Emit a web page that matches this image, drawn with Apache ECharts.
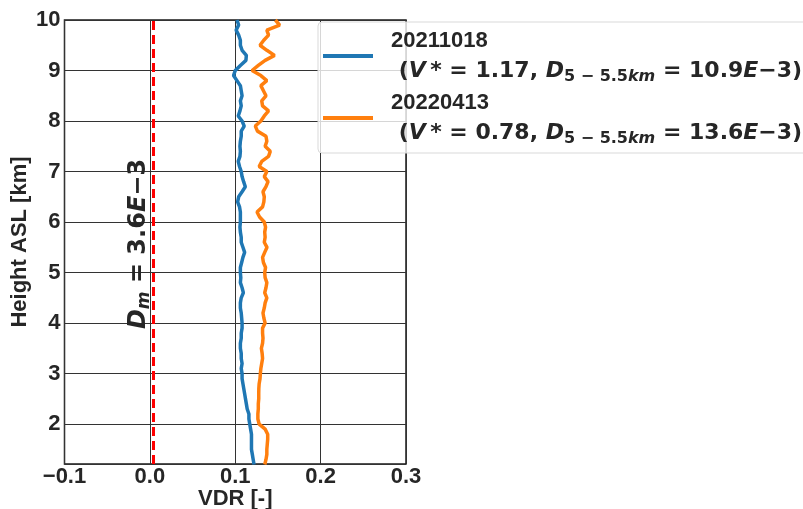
<!DOCTYPE html>
<html>
<head>
<meta charset="utf-8">
<script src="https://cdn.jsdelivr.net/npm/echarts@6/dist/echarts.min.js"></script>
<style>
html, body { margin: 0; padding: 0; background: #fff; }
#chart { width: 803px; height: 509px; }
</style>
</head>
<body>
<div id="chart"></div>
<script>
// 高度 (km)
var heights = [1.2, 1.3, 1.4, 1.5, 1.6, 1.7, 1.8, 1.9, 2.0, 2.1, 2.2, 2.3, 2.4, 2.5, 2.6, 2.7, 2.8, 2.9,
    3.0, 3.1, 3.2, 3.3, 3.4, 3.5, 3.6, 3.7, 3.8, 3.9, 4.0, 4.1, 4.2, 4.3, 4.4, 4.5, 4.6, 4.7, 4.8, 4.9,
    5.0, 5.1, 5.2, 5.3, 5.4, 5.5, 5.6, 5.7, 5.8, 5.9, 6.0, 6.1, 6.2, 6.3, 6.4, 6.5, 6.6, 6.7, 6.8, 6.9,
    7.0, 7.1, 7.2, 7.3, 7.4, 7.5, 7.6, 7.7, 7.8, 7.9, 8.0, 8.1, 8.2, 8.3, 8.4, 8.5, 8.6, 8.7, 8.8, 8.9,
    9.0, 9.1, 9.2, 9.3, 9.4, 9.5, 9.6, 9.7, 9.8, 9.9, 10.0];

// VDR 20211018
var vdr20211018 = [0.122, 0.121, 0.120, 0.119, 0.119, 0.119, 0.119, 0.118, 0.117, 0.116, 0.116, 0.114, 0.113, 0.112, 0.111, 0.110, 0.109, 0.108,
    0.108, 0.107, 0.108, 0.107, 0.107, 0.106, 0.106, 0.107, 0.107, 0.108, 0.108, 0.1075, 0.107, 0.106, 0.106, 0.107, 0.1095, 0.108, 0.106, 0.1065,
    0.106, 0.106, 0.1075, 0.109, 0.111, 0.109, 0.107, 0.107, 0.106, 0.1055, 0.106, 0.106, 0.106, 0.105, 0.1028, 0.104, 0.108, 0.1118, 0.1098, 0.108,
    0.107, 0.105, 0.1035, 0.1055, 0.106, 0.1055, 0.106, 0.107, 0.107, 0.1105, 0.108, 0.1035, 0.1055, 0.107, 0.106, 0.108, 0.107, 0.106, 0.102, 0.098,
    0.100, 0.106, 0.1125, 0.113, 0.108, 0.106, 0.106, 0.104, 0.101, 0.104, 0.102];

// VDR 20220413
var vdr20220413 = [0.1346, 0.136, 0.137, 0.137, 0.1375, 0.138, 0.138, 0.135, 0.128, 0.1265, 0.1265, 0.127, 0.127, 0.1275, 0.1275, 0.1276, 0.128, 0.129,
    0.1294, 0.130, 0.131, 0.132, 0.1315, 0.1306, 0.132, 0.1325, 0.132, 0.132, 0.135, 0.1335, 0.1325, 0.134, 0.135, 0.137, 0.1345, 0.136, 0.137, 0.135,
    0.1345, 0.1355, 0.133, 0.132, 0.1345, 0.1372, 0.134, 0.135, 0.1345, 0.1355, 0.134, 0.1285, 0.1255, 0.132, 0.1335, 0.134, 0.1325, 0.136, 0.1384, 0.134,
    0.137, 0.128, 0.131, 0.139, 0.141, 0.135, 0.137, 0.136, 0.126, 0.1235, 0.130, 0.134, 0.139, 0.132, 0.131, 0.136, 0.133, 0.130, 0.137, 0.130,
    0.1197, 0.127, 0.135, 0.146, 0.137, 0.129, 0.1334, 0.139, 0.137, 0.152, 0.147];

var dm = 0.0036;   // D_m = 3.6E-3

var textColor = '#262626';
var mathFont = 'DejaVu Sans';
var plainFont = 'Liberation Sans';

function pairs(vals) {
    return heights.map(function (h, i) { return [vals[i], h]; });
}

var LH = 31;
var legendRich = {
    t: { fontFamily: plainFont, fontWeight: 'bold', fontSize: 22, color: textColor, lineHeight: LH },
    m: { fontFamily: mathFont, fontWeight: 'bold', fontSize: 22, color: textColor, lineHeight: LH },
    mi: { fontFamily: mathFont, fontWeight: 'bold', fontStyle: 'italic', fontSize: 22, color: textColor, lineHeight: LH },
    s: { fontFamily: mathFont, fontWeight: 'bold', fontSize: 16, color: textColor, lineHeight: LH, padding: [10, 0, 0, 0] },
    si: { fontFamily: mathFont, fontWeight: 'bold', fontStyle: 'italic', fontSize: 16, color: textColor, lineHeight: LH, padding: [10, 0, 0, 0] }
};

var legendText = {
    '20211018': '{t|20211018}\n{m| (}{mi|V}{m|\u2009* = 1.17, }{mi|D}{s|5 − 5.5}{si|km}{m| = 10.9}{mi|E}{m|−3)}',
    '20220413': '{t|20220413}\n{m| (}{mi|V}{m|\u2009* = 0.78, }{mi|D}{s|5 − 5.5}{si|km}{m| = 13.6}{mi|E}{m|−3)}'
};

var myChart = echarts.init(document.getElementById('chart'));
var option = {
    animation: false,
    backgroundColor: '#fff',
    grid: {
        left: 64.5,
        right: 397,
        top: 20,
        bottom: 45,
        outerBoundsMode: 'none',
        containLabel: false,
        show: true,
        borderColor: '#1a1a1a',
        borderWidth: 1.5
    },
    xAxis: {
        type: 'value',
        min: -0.1,
        max: 0.3,
        interval: 0.1,
        name: 'VDR [-]',
        nameLocation: 'middle',
        nameGap: 24,
        nameMoveOverlap: false,
        nameTextStyle: { fontFamily: plainFont, fontWeight: 'bold', fontSize: 22, color: textColor },
        axisLine: { show: false },
        axisTick: { show: false },
        axisLabel: {
            margin: 2,
            fontFamily: plainFont, fontWeight: 'bold', fontSize: 22, color: textColor,
            formatter: function (v) { return v.toFixed(1).replace('-', '−'); }
        },
        splitLine: { show: true, lineStyle: { color: '#333', width: 1 } }
    },
    yAxis: {
        type: 'value',
        min: 1.21,
        max: 10,
        splitNumber: 9,
        name: 'Height ASL [km]',
        nameLocation: 'middle',
        nameGap: 34,
        nameTextStyle: { fontFamily: plainFont, fontWeight: 'bold', fontSize: 22, color: textColor },
        axisLine: { show: false },
        axisTick: { show: false },
        axisLabel: {
            margin: 4,
            showMinLabel: false,
            fontFamily: plainFont, fontWeight: 'bold', fontSize: 22, color: textColor,
            formatter: function (v) { return Math.abs(v - Math.round(v)) < 1e-6 ? String(Math.round(v)) : ''; }
        },
        splitLine: { show: true, lineStyle: { color: '#333', width: 1 } }
    },
    legend: {
        orient: 'vertical',
        left: 318,
        top: 22,
        padding: [3, 20, 4, 5],
        itemGap: 0,
        itemWidth: 50,
        itemHeight: 4,
        icon: 'rect',
        backgroundColor: 'rgba(255,255,255,0.8)',
        borderColor: '#d9d9d9',
        borderWidth: 1,
        borderRadius: 4,
        formatter: function (name) { return legendText[name]; },
        textStyle: { fontSize: 22, lineHeight: LH, padding: [0, 0, 0, 13], rich: legendRich }
    },
    series: [
        {
            name: '20211018',
            type: 'line',
            data: pairs(vdr20211018),
            showSymbol: false,
            color: '#1f77b4',
            lineStyle: { width: 3.5 },
            markLine: {
                silent: true,
                symbol: 'none',
                precision: 5,
                label: { show: false },
                lineStyle: { color: '#ff0000', type: [9, 5], width: 3 },
                data: [{ xAxis: dm }]
            }
        },
        {
            name: '20220413',
            type: 'line',
            data: pairs(vdr20220413),
            showSymbol: false,
            color: '#ff7f0e',
            lineStyle: { width: 3.5 }
        }
    ]
};
myChart.setOption(option);

// D_m 标注
var p = myChart.convertToPixel({ xAxisIndex: 0, yAxisIndex: 0 }, [dm, (1.21 + 10) / 2]);
myChart.setOption({
    graphic: [{
        type: 'text',
        x: p[0] - 14,
        y: p[1] + 2,
        rotation: Math.PI / 2,
        style: {
            text: '{i|D}{s|m}{n| = 3.6}{i|E}{n|−3}',
            align: 'center',
            verticalAlign: 'middle',
            rich: {
                i: { fontFamily: mathFont, fontWeight: 'bold', fontStyle: 'italic', fontSize: 24, fill: textColor },
                n: { fontFamily: mathFont, fontWeight: 'bold', fontSize: 24, fill: textColor },
                s: { fontFamily: mathFont, fontWeight: 'bold', fontStyle: 'italic', fontSize: 17, fill: textColor, padding: [11, 0, 0, 0] }
            }
        }
    }]
});
</script>
</body>
</html>
